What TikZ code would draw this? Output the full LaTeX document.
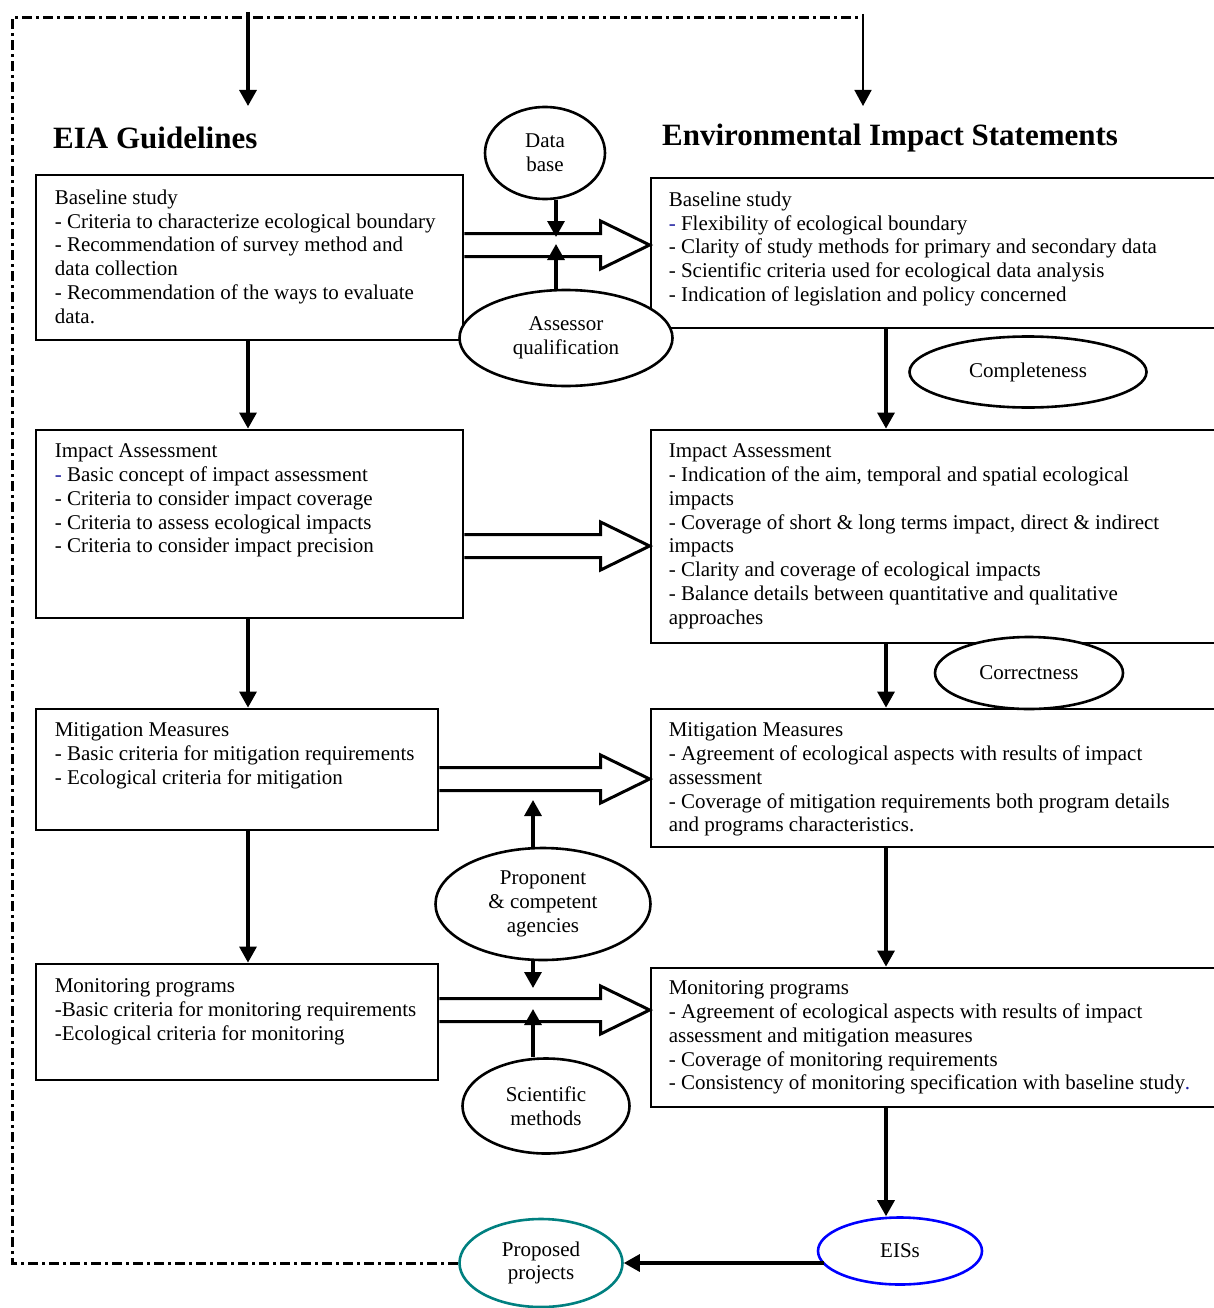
\documentclass[tikz,border=0pt]{standalone}
\usepackage{fontspec}
\setmainfont{Liberation Serif}
\usetikzlibrary{arrows.meta,positioning,shapes.geometric,calc}
\definecolor{dashblue}{HTML}{2020A0}
\definecolor{eisblue}{HTML}{0000FF}
\definecolor{projteal}{HTML}{008080}

% open block arrow between two points on the same height
\newcommand{\bigarrow}[2]{%
  \draw[blockarr] let \p1=(#1), \p2=(#2) in
    (\x1,\y1+11.5pt) -- (\x2-49pt,\y1+11.5pt) -- (\x2-49pt,\y1+24pt)
    -- (\x2,\y1) -- (\x2-49pt,\y1-24pt) -- (\x2-49pt,\y1-11.5pt) -- (\x1,\y1-11.5pt);}

\begin{document}
\begin{tikzpicture}[
  x=1pt, y=-1pt,
  every node/.style={font=\fontsize{21}{23.8}\selectfont},
  gbox/.style={draw, line width=2.8pt, inner sep=0pt},
  txt/.style={anchor=north west, align=left, inner sep=0pt},
  title/.style={anchor=west, inner sep=0pt, font=\fontsize{31}{36}\selectfont\bfseries},
  oval/.style={ellipse, draw, line width=2.6pt, fill=white, inner sep=0pt, align=center},
  flow/.style={line width=3.2pt, -{Triangle[length=16pt,width=17pt]}},
  thinflow/.style={line width=1.6pt, -{Triangle[length=16pt,width=17pt]}},
  blockarr/.style={line width=3pt, line join=miter},
  frame/.style={line width=3pt, dash pattern=on 10pt off 4pt on 3pt off 4pt},
]
  \useasboundingbox (0,0) rectangle (1213,1308);

  % titles
  \node[title] (gtitle) at (53,138) {EIA Guidelines};
  \node[title] (etitle) at (662,138) {Environmental Impact Statements};

  % guideline boxes (left)
  \node[gbox, minimum width=427pt, minimum height=165pt] (gl1) at (249.5,257.5) {};
  \node[gbox, minimum width=427pt, minimum height=188pt] (gl2) at (249.5,524) {};
  \node[gbox, minimum width=402pt, minimum height=121pt] (gl3) at (237,769.5) {};
  \node[gbox, minimum width=402pt, minimum height=116pt] (gl4) at (237,1022) {};

  % statement boxes (right, running off the page)
  \node[gbox, minimum width=579pt, minimum height=150pt] (es1) at (940.5,253) {};
  \node[gbox, minimum width=579pt, minimum height=213pt] (es2) at (940.5,536.5) {};
  \node[gbox, minimum width=579pt, minimum height=138pt] (es3) at (940.5,778) {};
  \node[gbox, minimum width=579pt, minimum height=139pt] (es4) at (940.5,1037.5) {};

  \node[txt] (gl1t) at ([shift={(20,16)}]gl1.north west) {Baseline study\\
    - Criteria to characterize ecological boundary\\
    - Recommendation of survey method and\\
    data collection\\
    - Recommendation of the ways to evaluate\\
    data.};
  \node[txt] (gl2t) at ([shift={(20,15)}]gl2.north west) {Impact Assessment\\
    \textcolor{dashblue}{-} Basic concept of impact assessment\\
    - Criteria to consider impact coverage\\
    - Criteria to assess ecological impacts\\
    - Criteria to consider impact precision};
  \node[txt] (gl3t) at ([shift={(20,15)}]gl3.north west) {Mitigation Measures\\
    - Basic criteria for mitigation requirements\\
    - Ecological criteria for mitigation};
  \node[txt] (gl4t) at ([shift={(20,16)}]gl4.north west) {Monitoring programs\\
    -Basic criteria for monitoring requirements\\
    -Ecological criteria for monitoring};

  \node[txt] (es1t) at ([shift={(19,15)}]es1.north west) {Baseline study\\
    \textcolor{dashblue}{-} Flexibility of ecological boundary\\
    - Clarity of study methods for primary and secondary data\\
    - Scientific criteria used for ecological data analysis\\
    - Indication of legislation and policy concerned};
  \node[txt] (es2t) at ([shift={(19,15)}]es2.north west) {Impact Assessment\\
    - Indication of the aim, temporal and spatial ecological\\
    impacts\\
    - Coverage of short \& long terms impact, direct \& indirect\\
    impacts\\
    - Clarity and coverage of ecological impacts\\
    - Balance details between quantitative and qualitative\\
    approaches};
  \node[txt] (es3t) at ([shift={(19,15)}]es3.north west) {Mitigation Measures\\
    - Agreement of ecological aspects with results of impact\\
    assessment\\
    - Coverage of mitigation requirements both program details\\
    and programs characteristics.};
  \node[txt] (es4t) at ([shift={(19,14)}]es4.north west) {Monitoring programs\\
    - Agreement of ecological aspects with results of impact\\
    assessment and mitigation measures\\
    - Coverage of monitoring requirements\\
    - Consistency of monitoring specification with baseline study\textcolor{dashblue}{.}};

  % block arrows guideline -> statement
  \bigarrow{gl1.east |- 0,245}{es1.west |- 0,245}
  \bigarrow{gl2.east |- 0,546}{es2.west |- 0,546}
  \bigarrow{gl3.east |- 0,779}{es3.west |- 0,779}
  \bigarrow{gl4.east |- 0,1010}{es4.west |- 0,1010}

  % feedback frame
  \coordinate (inL) at (248,12);
  \coordinate (tipL) at (248,106);
  \coordinate (corner) at (12,18);
  \coordinate (inR) at (863,14);
  \coordinate (tipR) at (863,106);
  \coordinate (lcol) at (248,0);
  \coordinate (rcol) at (886,0);

  % side ovals
  \node[oval, minimum width=120pt, minimum height=92pt] (db) at (545,153) {Data\\base};
  \node[oval, minimum width=213pt, minimum height=96pt] (aq) at (566,338) {Assessor\\qualification};
  \node[oval, minimum width=237pt, minimum height=71pt] (cp) at (1028,372) {Completeness};
  \node[oval, minimum width=188pt, minimum height=72pt] (cr) at (1029,673) {Correctness};
  \node[oval, minimum width=215pt, minimum height=112pt] (pa) at (543,904) {Proponent\\\& competent\\agencies};
  \node[oval, minimum width=167pt, minimum height=95pt] (sm) at (546,1106) {Scientific\\methods};
  \node[oval, draw=projteal, minimum width=163pt, minimum height=88pt] (pp) at (541,1263) {Proposed\\projects};
  \node[oval, draw=eisblue, minimum width=164pt, minimum height=67pt] (eis) at (900,1251) {EISs};

  \coordinate (dbtip) at (556,237);
  \coordinate (aqtip) at (556,244);
  \coordinate (patop) at (533,800);
  \coordinate (pabot) at (533,988);
  \coordinate (smtip) at (533,1009);

  \draw[frame] (pp.west) -| (corner) -- (inR |- corner);
  \draw[flow] (inL) -- (tipL);
  \draw[thinflow] (inR) -- (tipR);

  % main flows
  \draw[flow] (gl1.south -| lcol) -- (gl2.north -| lcol);
  \draw[flow] (gl2.south -| lcol) -- (gl3.north -| lcol);
  \draw[flow] (gl3.south -| lcol) -- (gl4.north -| lcol);
  \draw[flow] (es1.south -| rcol) -- (es2.north -| rcol);
  \draw[flow] (es2.south -| rcol) -- (es3.north -| rcol);
  \draw[flow] (es3.south -| rcol) -- (es4.north -| rcol);
  \draw[flow] (es4.south -| rcol) -- (eis.north -| rcol);
  \draw[flow] ([xshift=7pt]eis.west |- pp.east) -- (pp.east);

  % inputs onto the block arrows
  \draw[flow] (db.south -| dbtip) -- (dbtip);
  \draw[flow] (aq.north -| aqtip) -- (aqtip);
  \draw[flow] (pa.north -| patop) -- (patop);
  \draw[flow] (pa.south -| pabot) -- (pabot);
  \draw[flow] (sm.north -| smtip) -- (smtip);
\end{tikzpicture}
\end{document}
